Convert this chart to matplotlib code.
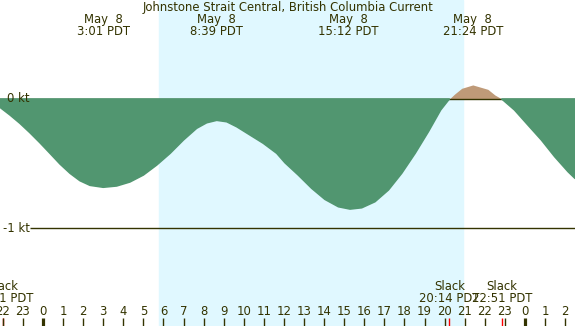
import numpy as np
import matplotlib
matplotlib.use("Agg")
import matplotlib.pyplot as plt

# current curve: hours after May 8 00:00 PDT, knots
hours = [-2.14, -1.64, -1.15, -0.65, -0.15, 0.35, 0.85, 1.35, 1.84, 2.34,
         3.00, 3.67, 4.33, 5.00, 5.66, 6.33, 6.99, 7.65, 8.15, 8.65, 9.15,
         9.65, 10.31, 10.97, 11.64, 12.05, 12.71, 13.38, 14.04, 14.71, 15.29,
         15.87, 16.53, 17.20, 17.86, 18.53, 19.19, 19.80, 20.23, 20.50, 20.85,
         21.40, 22.15, 22.50, 22.85, 23.48, 24.15, 24.82, 25.48, 26.15, 26.49]
knots = [-0.064, -0.124, -0.188, -0.261, -0.339, -0.421, -0.504, -0.576,
         -0.633, -0.669, -0.684, -0.674, -0.643, -0.589, -0.512, -0.421,
         -0.318, -0.227, -0.184, -0.165, -0.176, -0.215, -0.279, -0.343,
         -0.421, -0.494, -0.589, -0.692, -0.778, -0.835, -0.853, -0.843,
         -0.796, -0.705, -0.576, -0.421, -0.253, -0.085, 0.0, 0.039, 0.083,
         0.109, 0.075, 0.031, 0.0, -0.085, -0.202, -0.318, -0.447, -0.564,
         -0.615]

# max / min events along the top
event_hours = [3.02, 8.65, 15.20, 21.40]
event_labels = ["3:01 PDT", "8:39 PDT", "15:12 PDT", "21:24 PDT"]
event_date = "May  8"

# slack water along the bottom
slack_hours = [-1.99, 20.23, 22.85]
slack_labels = ["22:01 PDT", "20:14 PDT", "22:51 PDT"]

sunrise = 5.78
sunset = 20.92
tick_hours = list(range(-2, 27))
midnights = [0, 24]

title = "Johnstone Strait Central, British Columbia Current"

night = "#b0c4de"
day = "#e0f8ff"
green = "#519670"
tan = "#bf9a78"
ink = "#333300"
fs = 8.4

x0, x1 = -2.14, 26.49


def py(p):
    # pixel row -> knots (0 kt at row 99, 129 px per knot)
    return (99 - p) / 129.0


def px(p):
    # pixel column -> hours
    return x0 + p / 575.0 * (x1 - x0)


t = np.array(hours)
v = np.array(knots)

fig = plt.figure(figsize=(5.75, 3.26), dpi=100)
ax = fig.add_axes([0, 0, 1, 1])
ax.set_facecolor(night)
ax.set_xlim(x0, x1)
ax.set_ylim(py(326), py(0))
ax.axis("off")

ax.axvspan(sunrise, sunset, color=day, zorder=0)

ax.fill_between(t, v, 0, where=v >= 0, interpolate=True, color=tan, lw=0, zorder=1)
ax.axhline(0, color=ink, lw=1, zorder=2)
ax.fill_between(t, v, 0, where=v <= 0, interpolate=True, facecolor=green,
                edgecolor=green, lw=1.2, zorder=3)

ax.hlines(-1, px(30), x1, color=ink, lw=1, zorder=4)
ax.text(px(7), 0, "0 kt", color=ink, fontsize=fs, ha="left", va="center", zorder=5)
ax.text(px(3), -1, "-1 kt", color=ink, fontsize=fs, ha="left", va="center", zorder=5)

ax.text((x0 + x1) / 2, py(7.5), title, color=ink, fontsize=fs,
        ha="center", va="center", zorder=5)
for h, lab in zip(event_hours, event_labels):
    ax.text(h, py(19.5), event_date, color=ink, fontsize=fs, ha="center", va="center", zorder=5)
    ax.text(h, py(31.5), lab, color=ink, fontsize=fs, ha="center", va="center", zorder=5)

for h, lab in zip(slack_hours, slack_labels):
    ax.text(h, py(287), "Slack", color=ink, fontsize=fs, ha="center", va="center", zorder=5)
    ax.text(h, py(299), lab, color=ink, fontsize=fs, ha="center", va="center", zorder=5)
    ax.vlines(h, py(326), py(318), color="#ff0000", lw=1, zorder=5)

for h in tick_hours:
    ax.text(h, py(311.5), str(h % 24), color=ink, fontsize=fs,
            ha="center", va="center", zorder=5)
    if h in midnights:
        ax.vlines(h, py(326), py(317.5), color=ink, lw=2.3, zorder=6)
    else:
        ax.vlines(h, py(326), py(318), color=ink, lw=1, zorder=6)

fig.savefig("out.png", dpi=100)
